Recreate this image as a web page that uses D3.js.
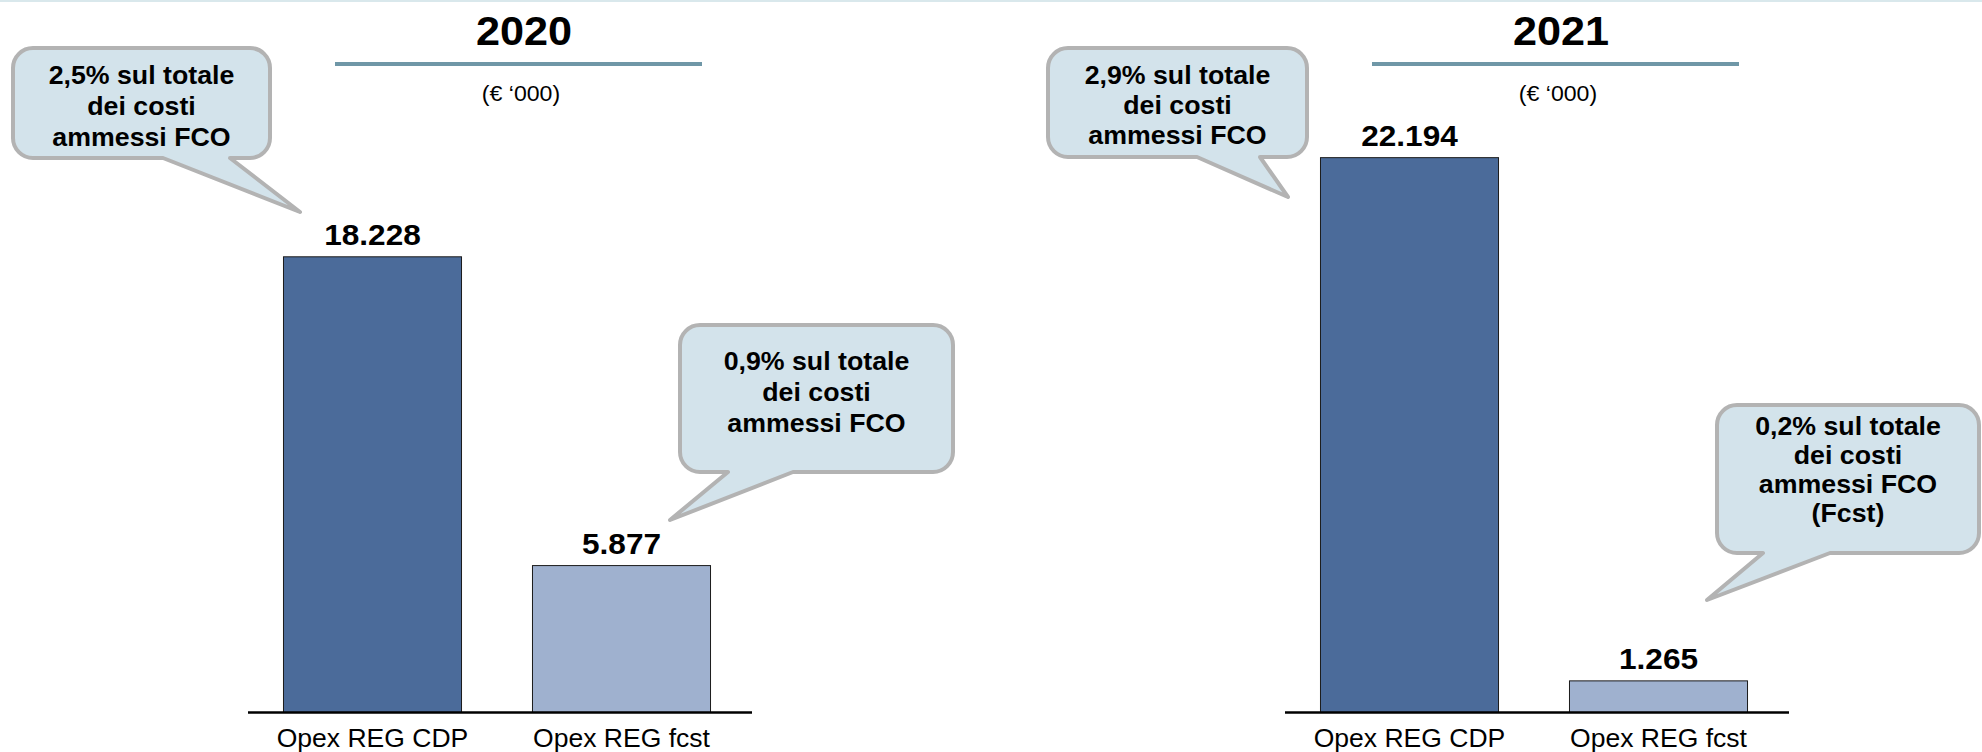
<!DOCTYPE html>
<html>
<head>
<meta charset="utf-8">
<script src="https://cdn.jsdelivr.net/npm/d3@7"></script>
<style>
  html, body { margin: 0; padding: 0; background: #ffffff; }
  svg { display: block; }
  text { font-family: "Liberation Sans", Arial, Helvetica, sans-serif; }
</style>
</head>
<body>
<svg id="chart" width="1982" height="752"></svg>
<script>
// ---- data ----
const years = ["2020", "2021"];
const categories = ["Opex REG CDP", "Opex REG fcst"];
const values2020 = [18228, 5877];
const values2021 = [22194, 1265];
const unitLabel = "(€ ‘000)";
const notes2020 = [
  ["2,5% sul totale", "dei costi", "ammessi FCO"],
  ["0,9% sul totale", "dei costi", "ammessi FCO"]
];
const notes2021 = [
  ["2,9% sul totale", "dei costi", "ammessi FCO"],
  ["0,2% sul totale", "dei costi", "ammessi FCO", "(Fcst)"]
];

// ---- layout ----
const W = 1982, H = 752;
const panelOffsets = [0, 1037];
const baseY = 712.5;
const barColors = ["#4b6b9a", "#9fb1cf"];
const itFormat = d3.formatLocale({ decimal: ",", thousands: ".", grouping: [3], currency: ["€", ""] }).format(",d");

// callout boxes (relative to each panel): rect, tail base on bottom edge, tail tip, text baselines
const calloutLayout = [
  [
    { x: 13, y: 48, w: 257, h: 110, a: 163, b: 230, tx: 300, ty: 212, lineY: [84, 115, 146] },
    { x: 680, y: 325, w: 273, h: 147, a: 728, b: 793, tx: 670, ty: 520, lineY: [370, 401, 432] }
  ],
  [
    { x: 11, y: 48, w: 259, h: 109, a: 160, b: 223, tx: 251, ty: 197, lineY: [84, 114, 144] },
    { x: 680, y: 405, w: 262, h: 148, a: 726, b: 793, tx: 670, ty: 600, lineY: [435, 464, 493, 522] }
  ]
];

const svg = d3.select("#chart");

// faint border along the top edge
svg.append("line")
  .attr("x1", 0).attr("x2", W).attr("y1", 1).attr("y2", 1)
  .attr("stroke", "#d9e8ec").attr("stroke-width", 2);

const y = d3.scaleLinear().domain([0, 24000]).range([baseY, baseY - 600]);

// centred text with a slight horizontal stretch
function wideText(sel, x, yy, sx) {
  return sel.attr("x", 0).attr("y", 0)
    .attr("text-anchor", "middle")
    .attr("transform", `translate(${x},${yy}) scale(${sx},1)`);
}

function calloutPath(c) {
  const r = 20, p = d3.path();
  const x0 = c.x, y0 = c.y, x1 = c.x + c.w, y1 = c.y + c.h;
  const hi = Math.max(c.a, c.b), lo = Math.min(c.a, c.b);
  p.moveTo(x0 + r, y0);
  p.lineTo(x1 - r, y0);
  p.arcTo(x1, y0, x1, y0 + r, r);
  p.lineTo(x1, y1 - r);
  p.arcTo(x1, y1, x1 - r, y1, r);
  p.lineTo(hi, y1);
  p.lineTo(c.tx, c.ty);
  p.lineTo(lo, y1);
  p.lineTo(x0 + r, y1);
  p.arcTo(x0, y1, x0, y1 - r, r);
  p.lineTo(x0, y0 + r);
  p.arcTo(x0, y0, x0 + r, y0, r);
  p.closePath();
  return p.toString();
}

const panels = [
  { year: years[0], values: values2020, notes: notes2020 },
  { year: years[1], values: values2021, notes: notes2021 }
];

panels.forEach((panel, i) => {
  const g = svg.append("g").attr("transform", `translate(${panelOffsets[i]},0)`);

  const x = d3.scaleBand()
    .domain(categories)
    .range([248, 746])
    .paddingInner(0.285)
    .paddingOuter(0.1425);

  // title, rule and unit
  g.append("text")
    .call(wideText, 524, 45, 1.08)
    .attr("font-size", 40).attr("font-weight", "bold")
    .attr("fill", "#000")
    .text(panel.year);
  g.append("line")
    .attr("x1", 335).attr("x2", 702).attr("y1", 64).attr("y2", 64)
    .attr("stroke", "#6f97a7").attr("stroke-width", 4);
  g.append("text")
    .call(wideText, 521, 101, 1.05)
    .attr("font-size", 22)
    .attr("fill", "#000")
    .text(unitLabel);

  const data = categories.map((c, k) => ({ cat: c, value: panel.values[k], k }));

  // bars
  g.selectAll("rect.bar").data(data).join("rect")
    .attr("class", "bar")
    .attr("x", d => x(d.cat))
    .attr("width", x.bandwidth())
    .attr("y", d => y(d.value))
    .attr("height", d => baseY - y(d.value))
    .attr("fill", d => barColors[d.k])
    .attr("stroke", "#1b1b1b").attr("stroke-width", 1);

  // value labels
  g.selectAll("text.val").data(data).join("text")
    .attr("class", "val")
    .each(function (d) {
      d3.select(this).call(wideText, x(d.cat) + x.bandwidth() / 2, y(d.value) - 12, 1.09);
    })
    .attr("font-size", 29).attr("font-weight", "bold")
    .attr("fill", "#000")
    .text(d => itFormat(d.value));

  // baseline axis
  const axis = d3.axisBottom(x).tickSize(0).tickPadding(16);
  const ax = g.append("g").attr("transform", `translate(0,${baseY})`).call(axis);
  ax.select(".domain").remove();
  ax.selectAll("text")
    .attr("font-size", 26)
    .attr("font-family", "'Liberation Sans', Arial, sans-serif")
    .attr("fill", "#000")
    .attr("dy", "0.71em")
    .attr("transform", "scale(1.02,1)");
  g.append("line")
    .attr("x1", 248).attr("x2", 752).attr("y1", baseY).attr("y2", baseY)
    .attr("stroke", "#000").attr("stroke-width", 2.5);

  // callouts
  panel.notes.forEach((lines, n) => {
    const c = calloutLayout[i][n];
    const cg = g.append("g");
    cg.append("path")
      .attr("d", calloutPath(c))
      .attr("fill", "#d3e3eb")
      .attr("stroke", "#b3b3b3")
      .attr("stroke-width", 4)
      .attr("stroke-linejoin", "round");
    cg.selectAll("text").data(lines).join("text")
      .each(function (d, j) {
        d3.select(this).call(wideText, c.x + c.w / 2, c.lineY[j], 1.07);
      })
      .attr("font-size", 25).attr("font-weight", "bold")
      .attr("fill", "#000")
      .text(d => d);
  });
});
</script>
</body>
</html>
